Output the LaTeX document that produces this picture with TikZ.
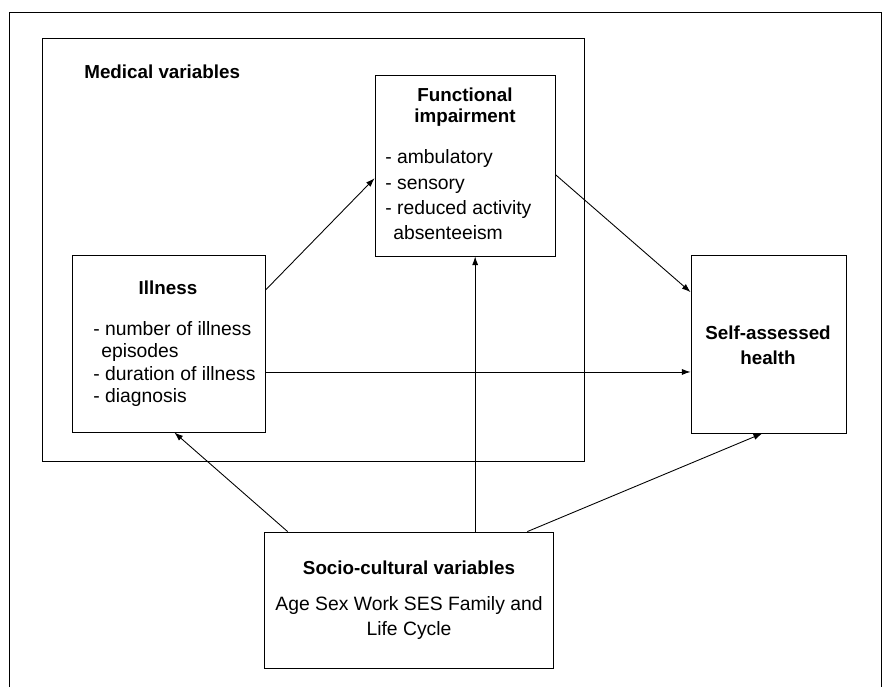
\documentclass[tikz,border=0pt]{standalone}
\usepackage{fontspec}
\setmainfont{Liberation Sans}
\usetikzlibrary{arrows.meta,calc,positioning}
\tikzset{
  frame/.style={draw, line width=0.5pt},
  varbox/.style={draw, line width=0.5pt, inner sep=0pt},
  head/.style={font=\fontsize{10.7}{12}\selectfont\bfseries, align=center, inner sep=0pt},
  items/.style={font=\fontsize{11}{14.4}\selectfont, align=left, inner sep=0pt},
  effect/.style={-{Latex[length=5pt,width=3.5pt]}, line width=0.5pt}
}
\newcommand{\Indent}{\hspace{4.5pt}}

\begin{document}
\begin{tikzpicture}[x=0.02cm, y=-0.02cm]
  \useasboundingbox (0,0) rectangle (884,687);
  % open outer frame
  \draw[frame] (9,687) -- (9,12) -- (881,12) -- (881,687);
  % boxes
  \node[varbox, minimum width=10.84cm, minimum height=8.46cm] (med) at (313,249.5) {};
  \node[varbox, fill=white, minimum width=3.6cm, minimum height=3.62cm] (fun) at (465,165.5) {};
  \node[varbox, fill=white, minimum width=3.86cm, minimum height=3.54cm] (ill) at (168.5,343.5) {};
  \node[varbox, minimum width=3.1cm, minimum height=3.56cm] (self) at (768.5,344) {};
  \node[varbox, fill=white, minimum width=5.78cm, minimum height=2.72cm] (soc) at (408.5,600) {};
  % texts
  \node[head, anchor=west] (medH) at (84,72) {Medical variables};
  \node[head] (funH) at (465,107.5) {Functional\\impairment};
  \node[items, anchor=west] (funL) at (385,195) {- ambulatory\\- sensory\\- reduced activity\\\Indent absenteeism};
  \node[head] (illH) at (168,288) {Illness};
  \node[items, anchor=west, font=\fontsize{11}{12.6}\selectfont] (illL) at (93,364) {- number of illness\\\Indent episodes\\- duration of illness\\- diagnosis};
  \node[head, font=\fontsize{10.7}{14}\selectfont\bfseries] (selfH) at (768,345) {Self-assessed\\health};
  \node[head] (socH) at (409,568) {Socio-cultural variables};
  \node[items, align=center] (socL) at (409,618) {Age Sex Work SES Family and\\Life Cycle};
  % effects
  \coordinate (illA) at ($(ill.north east)!0.2!(ill.south east)$);
  \coordinate (illB) at ($(ill.north east)!0.66!(ill.south east)$);
  \coordinate (funA) at ($(fun.north east)!0.55!(fun.south east)$);
  \coordinate (socA) at ($(soc.north west)!0.083!(soc.north east)$);
  \coordinate (socB) at ($(soc.north west)!0.73!(soc.north east)$);
  \coordinate (socC) at ($(soc.north west)!0.91!(soc.north east)$);
  \draw[effect] (illA) -- ($(fun.north west)!0.57!(fun.south west)$);
  \draw[effect] (illB) -- (illB -| self.west);
  \draw[effect] (funA) -- ($(self.north west)!0.21!(self.south west)$);
  \draw[effect] (socA) -- ($(ill.south west)!0.53!(ill.south east)$);
  \draw[effect] (socB) -- (socB |- fun.south);
  \draw[effect] (socC) -- ($(self.south west)!0.46!(self.south east)$);
\end{tikzpicture}
\end{document}
